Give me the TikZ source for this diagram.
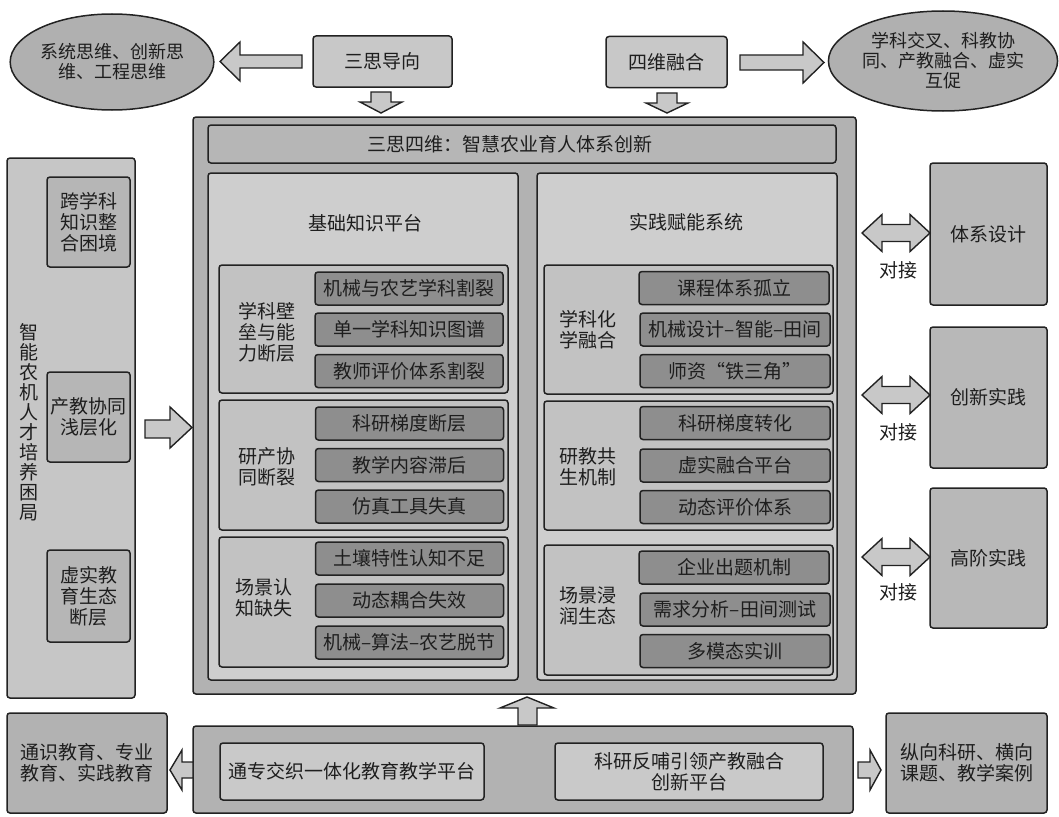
\documentclass[tikz,border=0pt]{standalone}
\usepackage{fontspec}
\setmainfont{Noto Sans CJK SC}
\usetikzlibrary{shapes.geometric}
\definecolor{txt}{HTML}{1E1E1E}
\definecolor{edge}{HTML}{222222}
\definecolor{mainfill}{HTML}{B2B2B2}
\definecolor{panfill}{HTML}{CECECE}
\definecolor{grpfill}{HTML}{C2C2C2}
\definecolor{itemfill}{HTML}{8E8E8E}
\definecolor{titlefill}{HTML}{B6B6B6}
\definecolor{topfill}{HTML}{C8C8C8}
\definecolor{ellfill}{HTML}{B0B0B0}
\definecolor{colfill}{HTML}{C6C6C6}
\definecolor{subfill}{HTML}{B6B6B6}
\definecolor{sidefill}{HTML}{B8B8B8}
\definecolor{innerfill}{HTML}{C9C9C9}
\definecolor{arrfill}{HTML}{C8C8C8}
\tikzset{
  every node/.style={font=\fontsize{19}{21}\selectfont, text=txt, inner sep=0pt, align=center},
  boxbase/.style={draw=edge, line width=1.5pt, rounded corners=3pt},
  topbox/.style={boxbase, fill=topfill},
  mainbox/.style={boxbase, fill=mainfill},
  titlebox/.style={boxbase, fill=titlefill},
  panelbox/.style={boxbase, fill=panfill},
  grpbox/.style={boxbase, fill=grpfill},
  itembox/.style={boxbase, fill=itemfill, minimum height=33pt},
  litem/.style={itembox, minimum width=188pt},
  ritem/.style={itembox, minimum width=190pt},
  colbox/.style={boxbase, fill=colfill},
  subbox/.style={boxbase, fill=subfill, minimum width=83pt},
  sidebox/.style={boxbase, fill=sidefill, minimum width=117pt},
  innerbox/.style={boxbase, fill=innerfill, minimum height=57pt},
  ellnode/.style={ellipse, draw=edge, line width=1.5pt, fill=ellfill},
  blockarrow/.style={draw=edge, line width=1.4pt, fill=arrfill, line join=miter},
  plain/.style={}
}
\begin{document}
\begin{tikzpicture}[x=1pt,y=-1pt]
\useasboundingbox (0,0) rectangle (1059,816);

% top row
\node[ellnode, minimum width=194pt, minimum height=96pt, font=\fontsize{18}{20}\selectfont] (ellL) at (112,62) {系统思维、创新思\\维、工程思维};
\node[topbox, minimum width=139pt, minimum height=51pt] (sansi) at (382.5,61.5) {三思导向};
\node[topbox, minimum width=121pt, minimum height=51pt] (siwei) at (666.5,62) {四维融合};
\node[ellnode, minimum width=216pt, minimum height=100pt, font=\fontsize{18}{20}\selectfont] (ellR) at (943,61) {学科交叉、科教协\\同、产教融合、虚实\\互促};

% main box
\node[mainbox, minimum width=663pt, minimum height=577pt] (main) at (524.5,405.5) {};
\node[titlebox, minimum width=628pt, minimum height=38pt] (title) at (522,144) {};
\node (titletext) at (510,144) {三思四维：智慧农业育人体系创新};

\node[panelbox, minimum width=310pt, minimum height=507pt] (panL) at (363,426.5) {};
\node[panelbox, minimum width=300pt, minimum height=507pt] (panR) at (687,426.5) {};
\node (panLt) at (365,223) {基础知识平台};
\node (panRt) at (686,222) {实践赋能系统};

% left groups
\node[grpbox, minimum width=289pt, minimum height=128pt] (lg1) at (363.5,329) {};
\node[grpbox, minimum width=289pt, minimum height=130pt] (lg2) at (363.5,465) {};
\node[grpbox, minimum width=289pt, minimum height=130pt] (lg3) at (363.5,602) {};
\node (lg1t) at (267,332) {学科壁\\垒与能\\力断层};
\node (lg2t) at (267,467) {研产协\\同断裂};
\node (lg3t) at (264,598) {场景认\\知缺失};

\node[litem] (l11) at (409,288.5) {机械与农艺学科割裂};
\node[litem] (l12) at (409,329.5) {单一学科知识图谱};
\node[litem] (l13) at (409,371) {教师评价体系割裂};
\node[litem] (l21) at (409.5,423.5) {科研梯度断层};
\node[litem] (l22) at (409.5,465) {教学内容滞后};
\node[litem] (l23) at (409.5,506.5) {仿真工具失真};
\node[litem] (l31) at (409.5,558.5) {土壤特性认知不足};
\node[litem] (l32) at (409.5,600.5) {动态耦合失效};
\node[litem] (l33) at (409.5,642.5) {机械–算法–农艺脱节};

% right groups
\node[grpbox, minimum width=289pt, minimum height=129pt] (rg1) at (688.5,329.5) {};
\node[grpbox, minimum width=289pt, minimum height=129pt] (rg2) at (688.5,465.5) {};
\node[grpbox, minimum width=289pt, minimum height=130pt] (rg3) at (688.5,610) {};
\node (rg1t) at (588,330) {学科化\\学融合};
\node (rg2t) at (588,467) {研教共\\生机制};
\node (rg3t) at (588,606) {场景浸\\润生态};

\node[ritem] (r11) at (734,288) {课程体系孤立};
\node[ritem] (r12) at (735,329.5) {机械设计–智能–田间};
\node[ritem] (r13) at (735,371) {师资“铁三角”};
\node[ritem] (r21) at (735,423) {科研梯度转化};
\node[ritem] (r22) at (735,465.5) {虚实融合平台};
\node[ritem] (r23) at (735,507) {动态评价体系};
\node[ritem] (r31) at (734,567.5) {企业出题机制};
\node[ritem] (r32) at (735,609.5) {需求分析–田间测试};
\node[ritem] (r33) at (735,651) {多模态实训};

% left column
\node[colbox, minimum width=128pt, minimum height=540pt] (col) at (71,428) {};
\node[font=\fontsize{19}{20}\selectfont] (colt) at (29,422) {智\\能\\农\\机\\人\\才\\培\\养\\困\\局};
\node[subbox, minimum height=90pt] (s1) at (88.5,222) {跨学科\\知识整\\合困境};
\node[subbox, minimum height=90pt] (s2) at (88.5,417) {产教协同\\浅层化};
\node[subbox, minimum height=92pt] (s3) at (88.5,596) {虚实教\\育生态\\断层};

% right side boxes
\node[sidebox, minimum height=142pt] (b1) at (988.5,234) {体系设计};
\node[sidebox, minimum height=141pt] (b2) at (988.5,397.5) {创新实践};
\node[sidebox, minimum height=140pt] (b3) at (988.5,558) {高阶实践};
\node (d1) at (898,270) {对接};
\node (d2) at (898,432) {对接};
\node (d3) at (898,592) {对接};

% bottom
\node[boxbase, fill=mainfill, minimum width=160pt, minimum height=100pt] (bl) at (87,763) {通识教育、专业\\教育、实践教育};
\node[boxbase, fill=mainfill, minimum width=660pt, minimum height=87pt] (bmain) at (523,769.5) {};
\node[innerbox, minimum width=264pt] (in1) at (352,771.5) {通专交织一体化教育教学平台};
\node[innerbox, minimum width=268pt] (in2) at (689,771.5) {科研反哺引领产教融合\\创新平台};
\node[boxbase, fill=mainfill, minimum width=161pt, minimum height=100pt] (br) at (966.5,763) {纵向科研、横向\\课题、教学案例};

% block arrows
\draw[blockarrow] (302,55) -- (240,55) -- (240,42) -- (220,61.5) -- (240,81) -- (240,68) -- (302,68) -- cycle;
\draw[blockarrow] (740,55) -- (803,55) -- (803,42) -- (824,62.5) -- (803,83) -- (803,70) -- (740,70) -- cycle;
\draw[blockarrow] (371,92) -- (391,92) -- (391,102) -- (402,102) -- (381,113) -- (360,102) -- (371,102) -- cycle;
\draw[blockarrow] (657,93) -- (677,93) -- (677,103) -- (688,103) -- (667,113) -- (646,103) -- (657,103) -- cycle;
\draw[blockarrow] (145,420) -- (170,420) -- (170,407) -- (192,427.5) -- (170,448) -- (170,438) -- (145,438) -- cycle;
\foreach \c in {233,395,557}{
  \draw[blockarrow] (862,\c) -- (882,\c-18.5) -- (882,\c-8.5) -- (910,\c-8.5) -- (910,\c-18.5) -- (930,\c) -- (910,\c+18.5) -- (910,\c+8.5) -- (882,\c+8.5) -- (882,\c+18.5) -- cycle;
}
\draw[blockarrow] (518,725) -- (518,708) -- (500,708) -- (527,697) -- (554,708) -- (537,708) -- (537,725) -- cycle;
\draw[blockarrow] (193,762) -- (182,762) -- (182,750) -- (170,770) -- (182,790) -- (182,778) -- (193,778) -- cycle;
\draw[blockarrow] (858,762) -- (870,762) -- (870,750) -- (881,770) -- (870,790) -- (870,778) -- (858,778) -- cycle;
\end{tikzpicture}
\end{document}
